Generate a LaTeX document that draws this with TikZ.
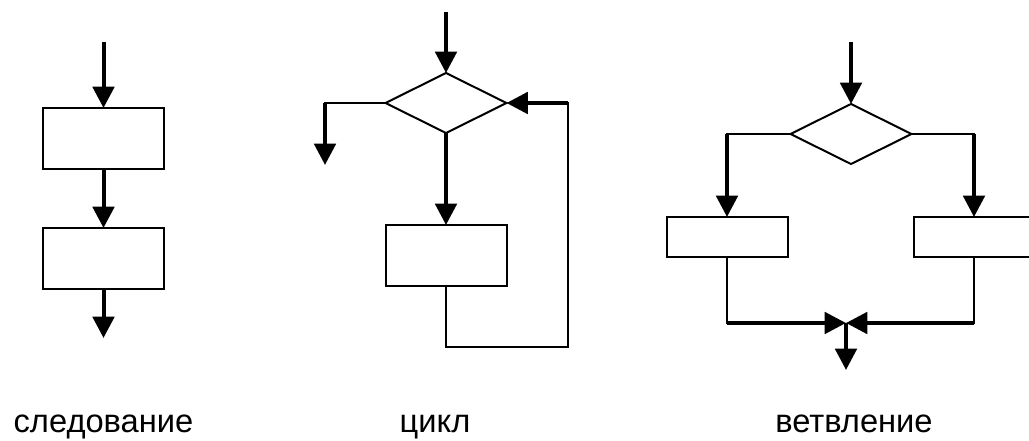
\documentclass[tikz,border=0pt]{standalone}
\usepackage{fontspec}
\setmainfont{Liberation Sans}
\usetikzlibrary{arrows.meta,shapes.geometric}
\begin{document}
\begin{tikzpicture}[x=0.75pt,y=-0.75pt,
  box/.style={draw,line width=1.5pt,minimum width=90.75pt,minimum height=45.75pt,inner sep=0pt,outer sep=0pt},
  dec/.style={diamond,draw,line width=1.5pt,minimum width=90.75pt,minimum height=45pt,inner sep=0pt,outer sep=0pt},
  wire/.style={line width=1.5pt,line cap=rect},
  flow/.style={line width=3pt,-{Triangle[length=16pt,width=16pt]}},
  lbl/.style={font=\fontsize{24.5pt}{28pt}\selectfont,anchor=base,inner sep=0pt}]
\clip (0,0) rectangle (1029,441);
% --- следование ---
\coordinate (a0) at (103.5,42);
\node[box] (a1) at (103.5,138.5) {};
\node[box] (a2) at (103.5,258.5) {};
\coordinate (a3) at (103.5,338);
\draw[flow] (a0) -- (a1.north);
\draw[flow] (a1.south) -- (a2.north);
\draw[flow] (a2.south) -- (a3);
% --- цикл ---
\coordinate (b0) at (446,12);
\node[dec] (b1) at (446,103) {};
\node[box] (b2) at (446,255.5) {};
\coordinate (bL) at (325,103);
\coordinate (bL2) at (325,165);
\coordinate (bB) at (446,347);
\coordinate (bC) at (568,347);
\coordinate (bD) at (568,103);
\draw[flow] (b0) -- (b1.north);
\draw[wire] (b1.west) -- (bL);
\draw[flow] (bL) -- (bL2);
\draw[flow] (b1.south) -- (b2.north);
\draw[wire] (b2.south) -- (bB) -- (bC) -- (bD);
\draw[flow] (bD) -- (b1.east);
% --- ветвление ---
\coordinate (c0) at (851,42);
\node[dec] (c1) at (851,134) {};
\node[box,minimum height=30pt] (c2) at (727,237) {};
\node[box,minimum height=30pt] (c3) at (974,237) {};
\coordinate (cL) at (727,134);
\coordinate (cR) at (974,134);
\coordinate (cJ) at (846,323);
\coordinate (cLb) at (727,323);
\coordinate (cRb) at (974,323);
\coordinate (cE) at (846,370);
\draw[flow] (c0) -- (c1.north);
\draw[wire] (c1.west) -- (cL);
\draw[flow] (cL) -- (c2.north);
\draw[wire] (c1.east) -- (cR);
\draw[flow] (cR) -- (c3.north);
\draw[wire] (c2.south) -- (cLb);
\draw[flow] (cLb) -- (cJ);
\draw[wire] (c3.south) -- (cRb);
\draw[flow] (cRb) -- (cJ);
\draw[flow] (cJ) -- (cE);
% --- labels ---
\node[lbl] (t1) at (103.5,433) {следование};
\node[lbl] (t2) at (435,433) {цикл};
\node[lbl] (t3) at (854,433) {ветвление};
\end{tikzpicture}
\end{document}
